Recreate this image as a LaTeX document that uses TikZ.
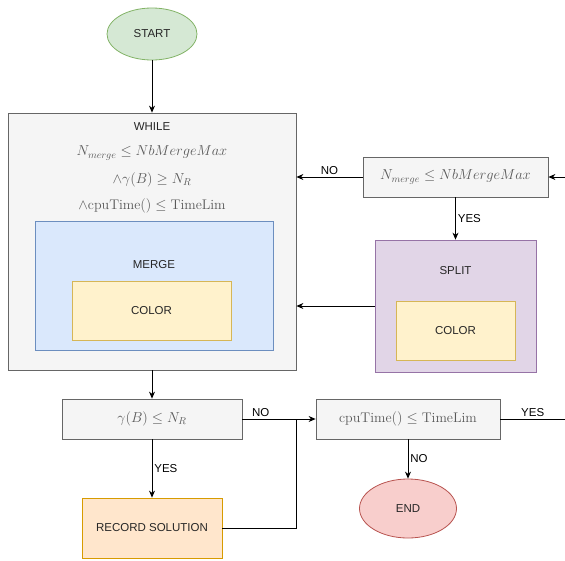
\documentclass[tikz,border=0pt]{standalone}
\usepackage{amsmath,amssymb}
\usepackage{fontspec}
\setsansfont{Liberation Sans}
\usepackage{tikz}
\usetikzlibrary{arrows.meta,positioning,shapes.geometric}
\definecolor{grayfill}{HTML}{F5F5F5}
\definecolor{grayline}{HTML}{666666}
\definecolor{greenfill}{HTML}{D5E8D4}
\definecolor{greenline}{HTML}{82B366}
\definecolor{bluefill}{HTML}{DAE8FC}
\definecolor{blueline}{HTML}{6C8EBF}
\definecolor{yellowfill}{HTML}{FFF2CC}
\definecolor{yellowline}{HTML}{D6B656}
\definecolor{purplefill}{HTML}{E1D5E7}
\definecolor{purpleline}{HTML}{9673A6}
\definecolor{orangefill}{HTML}{FFE6CC}
\definecolor{orangeline}{HTML}{D79B00}
\definecolor{redfill}{HTML}{F8CECC}
\definecolor{redline}{HTML}{B85450}

\begin{document}
\begin{tikzpicture}[
    x=1pt, y=-1pt,
    fbox/.style={rectangle, line width=0.8pt, inner sep=0pt,
                font=\sffamily\fontsize{11.5}{13}\selectfont, text=black!85},
    gbox/.style={fbox, draw=grayline, fill=grayfill},
    oval/.style={ellipse, line width=0.8pt, inner sep=0pt,
                font=\sffamily\fontsize{11.5}{13}\selectfont, text=black!85},
    txt/.style={font=\sffamily\fontsize{11.5}{13}\selectfont, text=black!85, inner sep=0pt},
    mth/.style={font=\fontsize{14}{16}\selectfont, text=black!65, inner sep=0pt},
    arr/.style={-{Stealth[length=7pt,width=6pt]}, line width=0.8pt},
    lin/.style={line width=0.8pt},
    lab/.style={font=\sffamily\fontsize{11.5}{13}\selectfont, text=black, inner sep=2pt}
]
\useasboundingbox (0,0) rectangle (565,560);

\node[oval, draw=greenline, fill=greenfill, minimum width=90pt, minimum height=52pt] (start) at (152,34) {START};

% while loop
\node[gbox, minimum width=288pt, minimum height=257pt] (loopbox) at (152,241.5) {};
\node[txt] (whiletxt) at (152,127) {WHILE};
\node[mth] (c1) at (152,153) {$N_{merge} \leq NbMergeMax$};
\node[mth] (c2) at (152,180) {$\wedge\gamma(B) \geq N_R$};
\node[mth] (c3) at (152,206) {$\wedge\mathrm{cpuTime()} \leq \mathrm{TimeLim}$};
\node[fbox, draw=blueline, fill=bluefill, minimum width=238pt, minimum height=129pt] (mergebox) at (154,285.5) {};
\node[txt] (mergetxt) at (154,265) {MERGE};
\node[fbox, draw=yellowline, fill=yellowfill, minimum width=159pt, minimum height=59pt] (mcolor) at (151.5,310.5) {COLOR};

% split branch
\node[gbox, minimum width=185pt, minimum height=40pt, font=\fontsize{14}{16}\selectfont, text=black!65] (cond) at (455.5,177) {$N_{merge} \leq NbMergeMax$};
\node[fbox, draw=purpleline, fill=purplefill, minimum width=161pt, minimum height=132pt] (splitbox) at (455.5,306) {};
\node[txt] (splittxt) at (455.5,271) {SPLIT};
\node[fbox, draw=yellowline, fill=yellowfill, minimum width=119pt, minimum height=59pt] (scolor) at (455.5,330.5) {COLOR};

% tests after the loop
\node[gbox, minimum width=180pt, minimum height=40pt, font=\fontsize{14}{16}\selectfont, text=black!65] (gam) at (152,419) {$\gamma(B) \leq N_R$};
\node[fbox, draw=orangeline, fill=orangefill, minimum width=140pt, minimum height=60pt] (rec) at (152,528) {RECORD SOLUTION};
\node[gbox, minimum width=184pt, minimum height=40pt, font=\fontsize{14}{16}\selectfont, text=black!65] (cpu) at (408,419) {$\mathrm{cpuTime()} \leq \mathrm{TimeLim}$};
\node[oval, draw=redline, fill=redfill, minimum width=97pt, minimum height=59pt] (stop) at (408,508.5) {END};

\coordinate (rin) at (565,177);
\coordinate (rout) at (565,419);
\coordinate (jn) at (296,419);

\draw[arr] (start) -- (loopbox);
\draw[arr] (rin) -- (cond);
\draw[arr] (cond) -- node[lab, above] {NO} (cond.west -| loopbox.east);
\draw[arr] (cond) -- node[lab, right] {YES} (splitbox);
\draw[arr] (splitbox.west) -- (splitbox.west -| loopbox.east);
\draw[arr] (loopbox) -- (gam);
\draw[arr] (gam.east) -- node[lab, above, pos=0.25] {NO} (cpu.west);
\draw[arr] (gam) -- node[lab, right] {YES} (rec);
\draw[lin] (rec.east) -| (jn);
\draw[lin] (cpu.east) -- node[lab, above] {YES} (rout);
\draw[arr] (cpu) -- node[lab, right] {NO} (stop);
\end{tikzpicture}
\end{document}
